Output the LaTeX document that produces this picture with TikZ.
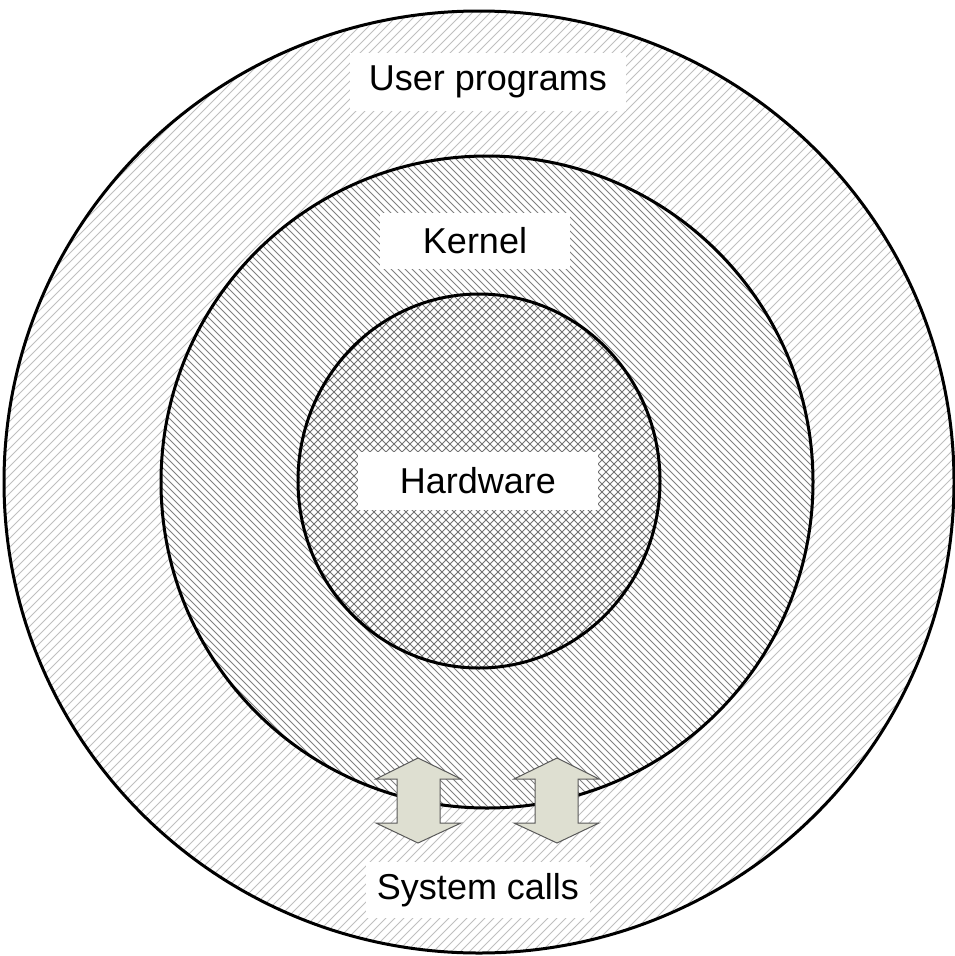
\documentclass[tikz,border=0pt]{standalone}
\usepackage{fontspec}
\setmainfont{Liberation Sans}
\begin{document}
\begin{tikzpicture}[x=1pt,y=-1pt,
  ringline/.style={line width=3pt,draw=black},
  labelbox/.style={fill=white,inner sep=0pt,font=\fontsize{36}{43}\selectfont},
  outerhatch/.style={draw=black!25,line width=0.9pt},
  kernelhatch/.style={draw=black!50,line width=1pt},
  hwhatch/.style={draw=black!55,line width=0.8pt},
  callarrow/.style={fill={rgb,255:red,222;green,223;blue,209},draw=black!65,line width=1pt}]
\useasboundingbox (0,0) rectangle (955,956);
\clip (0,0) rectangle (955,956);
% outer ring hatch
\begin{scope}
  \clip (479,482) ellipse [x radius=475, y radius=471];
  \fill[white] (0,0) rectangle (955,956);
  \foreach \i in {-970,-961,...,970} {\draw[outerhatch] (\i,960) -- ++(960,-960);}
\end{scope}
% kernel hatch
\begin{scope}
  \clip (487,482) circle [radius=326];
  \fill[white] (0,0) rectangle (955,956);
  \foreach \i in {-970,-963,...,970} {\draw[kernelhatch] (\i,0) -- ++(960,960);}
\end{scope}
% hardware crosshatch
\begin{scope}
  \clip (479,481) ellipse [x radius=181, y radius=187];
  \fill[white] (0,0) rectangle (955,956);
  \foreach \i in {-970,-962,...,970} {
    \draw[hwhatch] (\i,0) -- ++(960,960);
    \draw[hwhatch] (\i,960) -- ++(960,-960);}
\end{scope}
% outlines
\draw[ringline] (479,482) ellipse [x radius=475, y radius=471];
\draw[ringline] (487,482) circle [radius=326];
\draw[ringline] (479,481) ellipse [x radius=181, y radius=187];
% labels
\node[labelbox,minimum width=276pt,minimum height=58pt] (user) at (488,82) {User programs};
\node[labelbox,minimum width=190pt,minimum height=56pt] (kernel) at (475,241) {Kernel};
\node[labelbox,minimum width=240pt,minimum height=58pt] (hw) at (478,481) {Hardware};
\node[labelbox,minimum width=224pt,minimum height=56pt] (sys) at (478,890) {System calls};
% system call arrows
\coordinate (a1) at (418,758);
\coordinate (a2) at (557,758);
\draw[callarrow] (a1) -- ++(43,21) -- ++(-21,0) -- ++(0,44) -- ++(21,0) -- ++(-43,20)
  -- ++(-42,-20) -- ++(21,0) -- ++(0,-44) -- ++(-21,0) -- cycle;
\draw[callarrow] (a2) -- ++(42,21) -- ++(-21,0) -- ++(0,44) -- ++(21,0) -- ++(-42,20)
  -- ++(-43,-20) -- ++(21,0) -- ++(0,-44) -- ++(-21,0) -- cycle;
\end{tikzpicture}
\end{document}
